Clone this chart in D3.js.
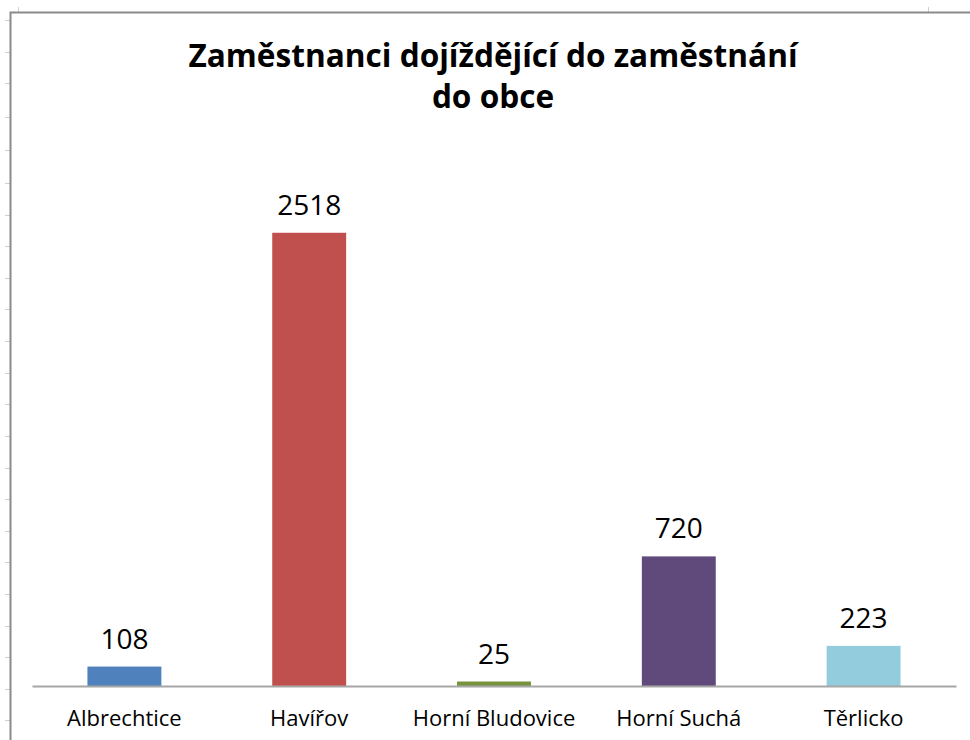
<!DOCTYPE html>
<html>
<head>
<meta charset="utf-8">
<script src="https://cdn.jsdelivr.net/npm/d3@7"></script>
<style>
  body { margin: 0; background: #fff; }
  text { font-family: 'Open Sans', 'Noto Sans', sans-serif; }
</style>
</head>
<body>
<script>
// data
const categories = ['Albrechtice', 'Havířov', 'Horní Bludovice', 'Horní Suchá', 'Těrlicko'];
const values = [108, 2518, 25, 720, 223];
const colors = ['#4F81BD', '#C0504D', '#77933C', '#604A7B', '#93CDDD'];
const titleLines = ['Zaměstnanci dojíždějící do zaměstnání', 'do obce'];
// spreadsheet row marks on the left border
const rowMarks = [20, 52, 83, 117, 150, 183, 215, 246, 278, 309, 341, 373, 404, 436, 468, 499, 531, 562, 594, 626, 657, 689, 720];

const width = 970;
const height = 740;
const margin = { top: 146, right: 14, bottom: 54, left: 32 };
const baseY = height - margin.bottom;

const data = categories.map((c, i) => ({ cat: c, val: values[i], color: colors[i] }));

const svg = d3.select('body').append('svg')
  .attr('width', width)
  .attr('height', height);

// frame of the sheet
const frame = svg.append('g');
frame.selectAll('line.mark')
  .data(rowMarks)
  .enter()
  .append('line')
  .attr('class', 'mark')
  .attr('x1', 5).attr('x2', 10)
  .attr('y1', (d) => d + 0.5).attr('y2', (d) => d + 0.5)
  .attr('stroke', '#cfcfcf');
frame.selectAll('line.cmark')
  .data([18, 928])
  .enter()
  .append('line')
  .attr('class', 'cmark')
  .attr('x1', (d) => d + 0.5).attr('x2', (d) => d + 0.5)
  .attr('y1', 7).attr('y2', 12)
  .attr('stroke', '#cfcfcf');
frame.append('path')
  .attr('d', `M10.5,${height}V12.5H${width}`)
  .attr('fill', 'none')
  .attr('stroke', '#8a8a8a')
  .attr('stroke-width', 2);

const xScale = d3.scaleBand()
  .domain(categories)
  .range([margin.left, width - margin.right])
  .paddingInner(0.6)
  .paddingOuter(0.3);

const yScale = d3.scaleLinear()
  .domain([0, 3000])
  .range([baseY, margin.top]);

const g = svg.append('g');

g.selectAll('rect')
  .data(data)
  .enter()
  .append('rect')
  .attr('x', (d) => xScale(d.cat))
  .attr('width', xScale.bandwidth())
  .attr('y', (d) => yScale(d.val))
  .attr('height', (d) => baseY - yScale(d.val))
  .attr('fill', (d) => d.color);

g.selectAll('text.val')
  .data(data)
  .enter()
  .append('text')
  .attr('class', 'val')
  .attr('x', (d) => xScale(d.cat) + xScale.bandwidth() / 2)
  .attr('y', (d) => yScale(d.val) - 18)
  .attr('text-anchor', 'middle')
  .attr('font-size', 28)
  .attr('fill', '#000')
  .text((d) => d.val);

const xAxis = svg.append('g')
  .attr('transform', `translate(0,${baseY})`)
  .call(d3.axisBottom(xScale).tickSize(0).tickPadding(24));
xAxis.select('.domain')
  .attr('stroke', '#a6a6a6')
  .attr('stroke-width', 2);
xAxis.selectAll('text')
  .attr('font-family', "'Open Sans', 'Noto Sans', sans-serif")
  .attr('font-size', 22)
  .attr('fill', '#000');

svg.append('g')
  .selectAll('text')
  .data(titleLines)
  .enter()
  .append('text')
  .attr('x', 493)
  .attr('y', (d, i) => 67 + i * 41)
  .attr('text-anchor', 'middle')
  .attr('font-size', 31.6)
  .attr('font-weight', 'bold')
  .attr('fill', '#000')
  .text((d) => d);
</script>
</body>
</html>
